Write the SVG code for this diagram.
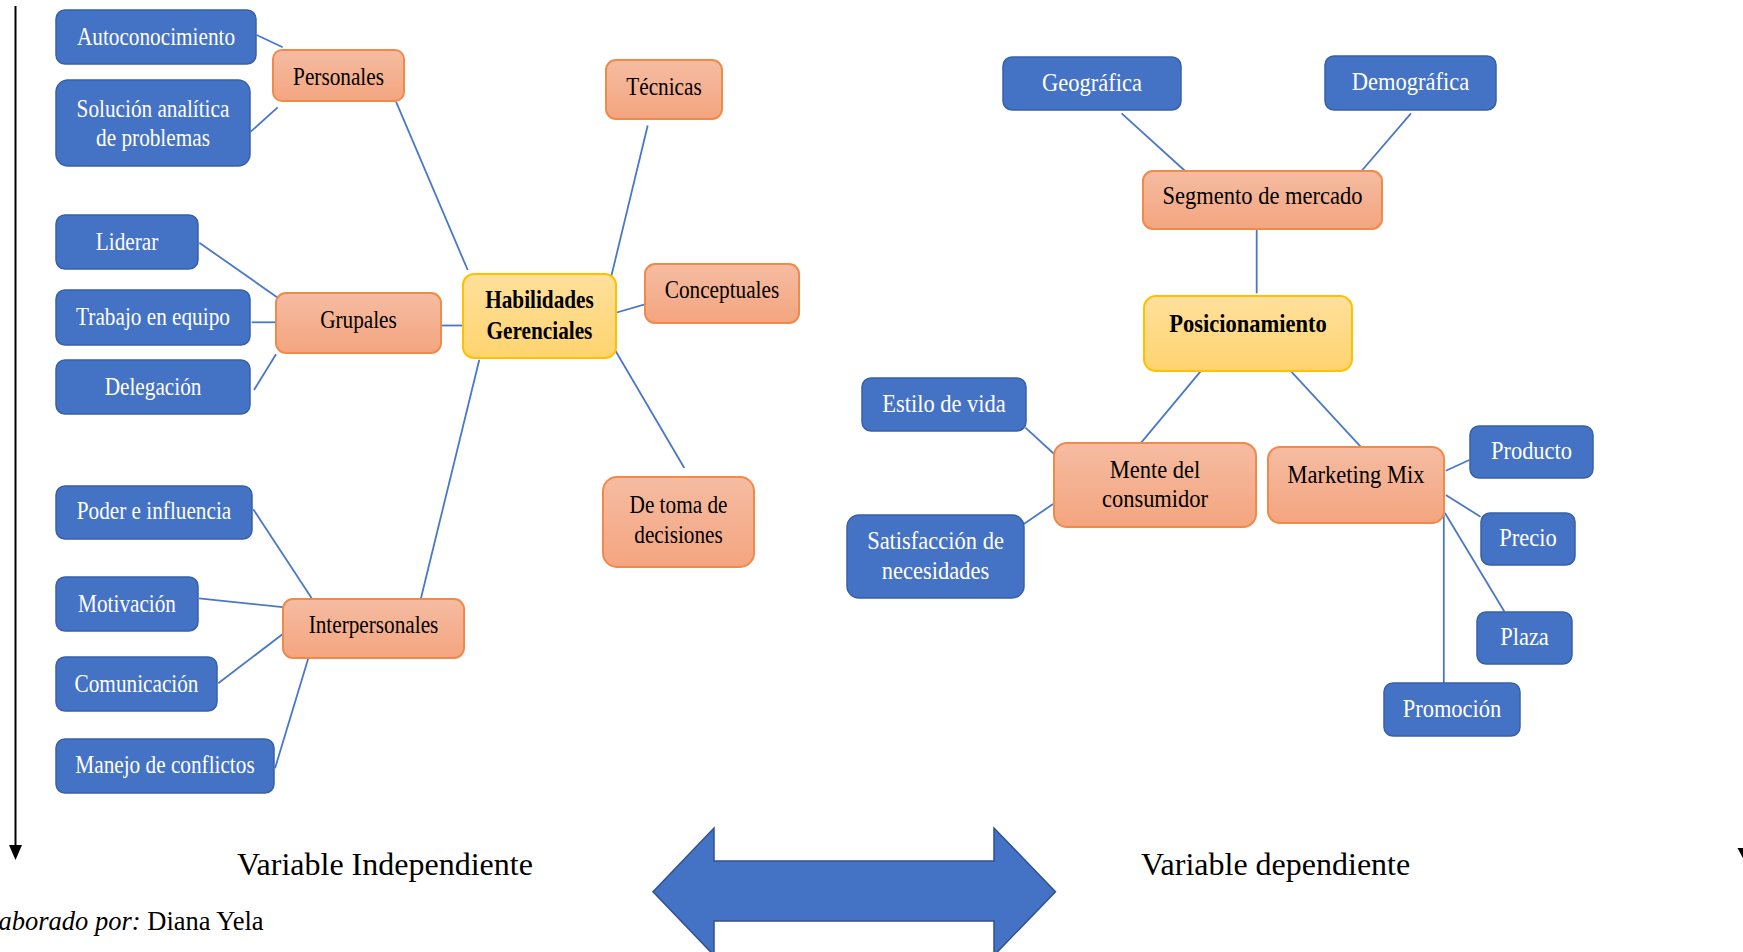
<svg xmlns="http://www.w3.org/2000/svg" width="1743" height="952" viewBox="0 0 1743 952">
  <defs>
    <linearGradient id="gOrange" x1="0" y1="0" x2="0" y2="1">
      <stop offset="0" stop-color="#F5BCA2"/>
      <stop offset="1" stop-color="#F4A57F"/>
    </linearGradient>
    <linearGradient id="gYellow" x1="0" y1="0" x2="0" y2="1">
      <stop offset="0" stop-color="#FFE09C"/>
      <stop offset="1" stop-color="#FFD46F"/>
    </linearGradient>
  </defs>
  <style>
    .blue { fill: #4472C4; stroke: #3760A8; stroke-width: 1.5; }
    .orange { fill: url(#gOrange); stroke: #F08A4B; stroke-width: 2; }
    .yellow { fill: url(#gYellow); stroke: #FFC000; stroke-width: 2; }
    .lbl { font-family: "Liberation Serif", "Times New Roman", serif; font-size: 25px; text-anchor: middle;
           transform-box: fill-box; transform-origin: center; }
    .l { transform: scaleX(0.85); }
    .r { transform: scaleX(0.9); }
    .w { fill: #FFFFFF; }
    .k { fill: #000000; }
    .b { font-weight: bold; }
    .conn line { stroke: #4A78C8; stroke-width: 1.8; }
    .cap { font-family: "Liberation Serif", "Times New Roman", serif; font-size: 32px; fill: #000000; }
  </style>
  <rect width="1743" height="952" fill="#FFFFFF"/>

  <!-- vertical guide arrows -->
  <g id="guides">
    <line x1="15.5" y1="6" x2="15.5" y2="846" stroke="#000000" stroke-width="2"/>
    <polygon points="9,845 22,845 15.5,860" fill="#000000"/>
    <line x1="1745" y1="6" x2="1745" y2="849" stroke="#000000" stroke-width="2"/>
    <polygon points="1737.5,848 1752.5,848 1745,862" fill="#000000"/>
  </g>

  <!-- connectors -->
  <g id="connectors" class="conn">
    <line x1="256.7" y1="35" x2="282.7" y2="47.3"/>
    <line x1="250.7" y1="131.7" x2="277.7" y2="107.3"/>
    <line x1="396" y1="101.7" x2="467.7" y2="270"/>
    <line x1="199.3" y1="242.7" x2="281" y2="300"/>
    <line x1="251.7" y1="322.3" x2="277.7" y2="322.3"/>
    <line x1="254" y1="390" x2="276" y2="354.3"/>
    <line x1="441.7" y1="325.5" x2="465" y2="325.5"/>
    <line x1="479.3" y1="359.7" x2="419.3" y2="605"/>
    <line x1="253.3" y1="509.3" x2="311.7" y2="598.3"/>
    <line x1="199" y1="598.3" x2="287.3" y2="607.7"/>
    <line x1="218.3" y1="683.3" x2="286.7" y2="631"/>
    <line x1="275" y1="768.3" x2="308.3" y2="658.3"/>
    <line x1="611" y1="277.5" x2="647.7" y2="125.5"/>
    <line x1="615" y1="313" x2="645.7" y2="304.2"/>
    <line x1="614" y1="348.3" x2="684.3" y2="468"/>
    <line x1="1121.6" y1="113.3" x2="1185.1" y2="171"/>
    <line x1="1411" y1="113.3" x2="1358.1" y2="175"/>
    <line x1="1256.7" y1="229" x2="1256.7" y2="293.3"/>
    <line x1="1201.2" y1="370.7" x2="1141.2" y2="442.7"/>
    <line x1="1290.4" y1="370.7" x2="1360.6" y2="446.7"/>
    <line x1="1025.4" y1="427.7" x2="1059.6" y2="459"/>
    <line x1="1023.9" y1="524" x2="1053" y2="504"/>
    <line x1="1445.8" y1="470.7" x2="1469.3" y2="460"/>
    <line x1="1445.8" y1="495" x2="1480.5" y2="516.7"/>
    <line x1="1444.8" y1="512.7" x2="1504.5" y2="611.7"/>
    <line x1="1443.8" y1="515" x2="1443.8" y2="683.3"/>
  </g>

  <!-- Habilidades Gerenciales map -->
  <g id="n-habilidades">
    <rect class="yellow" x="463" y="274" width="153" height="84" rx="11"/>
    <text class="lbl l k b" x="539.5" y="308">Habilidades</text>
    <text class="lbl l k b" x="539.5" y="338.7">Gerenciales</text>
  </g>
  <g id="n-personales">
    <rect class="orange" x="273" y="50" width="131" height="51" rx="9"/>
    <text class="lbl l k" x="338.5" y="85">Personales</text>
  </g>
  <g id="n-grupales">
    <rect class="orange" x="276" y="293" width="165" height="60" rx="10"/>
    <text class="lbl l k" x="358.5" y="328">Grupales</text>
  </g>
  <g id="n-interpersonales">
    <rect class="orange" x="283" y="599" width="181" height="59" rx="10"/>
    <text class="lbl l k" x="373.5" y="633">Interpersonales</text>
  </g>
  <g id="n-tecnicas">
    <rect class="orange" x="606" y="60" width="116" height="59" rx="10"/>
    <text class="lbl l k" x="664" y="95">Técnicas</text>
  </g>
  <g id="n-conceptuales">
    <rect class="orange" x="645" y="264" width="154" height="59" rx="10"/>
    <text class="lbl l k" x="722" y="298.5">Conceptuales</text>
  </g>
  <g id="n-toma-decisiones">
    <rect class="orange" x="603" y="477" width="151" height="90" rx="14"/>
    <text class="lbl l k" x="678.5" y="513">De toma de</text>
    <text class="lbl l k" x="678.5" y="543">decisiones</text>
  </g>
  <g id="n-autoconocimiento">
    <rect class="blue" x="56" y="10" width="200" height="54" rx="9"/>
    <text class="lbl l w" x="156" y="45">Autoconocimiento</text>
  </g>
  <g id="n-solucion">
    <rect class="blue" x="56" y="80" width="194" height="86" rx="12"/>
    <text class="lbl l w" x="153" y="117">Solución analítica</text>
    <text class="lbl l w" x="153" y="146">de problemas</text>
  </g>
  <g id="n-liderar">
    <rect class="blue" x="56" y="215" width="142" height="54" rx="9"/>
    <text class="lbl l w" x="127" y="250">Liderar</text>
  </g>
  <g id="n-trabajo">
    <rect class="blue" x="56" y="290" width="194" height="55" rx="9"/>
    <text class="lbl l w" x="153" y="325">Trabajo en equipo</text>
  </g>
  <g id="n-delegacion">
    <rect class="blue" x="56" y="360" width="194" height="54" rx="9"/>
    <text class="lbl l w" x="153" y="395">Delegación</text>
  </g>
  <g id="n-poder">
    <rect class="blue" x="56" y="486" width="196" height="53" rx="9"/>
    <text class="lbl l w" x="154" y="519">Poder e influencia</text>
  </g>
  <g id="n-motivacion">
    <rect class="blue" x="56" y="577" width="142" height="54" rx="9"/>
    <text class="lbl l w" x="127" y="612">Motivación</text>
  </g>
  <g id="n-comunicacion">
    <rect class="blue" x="56" y="657" width="161" height="54" rx="9"/>
    <text class="lbl l w" x="136.5" y="692">Comunicación</text>
  </g>
  <g id="n-manejo">
    <rect class="blue" x="56" y="739" width="218" height="54" rx="9"/>
    <text class="lbl l w" x="165" y="773">Manejo de conflictos</text>
  </g>

  <!-- Posicionamiento map -->
  <g id="n-posicionamiento">
    <rect class="yellow" x="1144" y="296" width="208" height="75" rx="12"/>
    <text class="lbl r k b" x="1248" y="332">Posicionamiento</text>
  </g>
  <g id="n-segmento">
    <rect class="orange" x="1143" y="171" width="239" height="58" rx="10"/>
    <text class="lbl r k" x="1262.5" y="204">Segmento de mercado</text>
  </g>
  <g id="n-mente">
    <rect class="orange" x="1054" y="443" width="202" height="84" rx="13"/>
    <text class="lbl r k" x="1155" y="478">Mente del</text>
    <text class="lbl r k" x="1155" y="507">consumidor</text>
  </g>
  <g id="n-marketing">
    <rect class="orange" x="1268" y="447" width="176" height="76" rx="12"/>
    <text class="lbl r k" x="1356" y="483">Marketing Mix</text>
  </g>
  <g id="n-geografica">
    <rect class="blue" x="1003" y="57" width="178" height="53" rx="9"/>
    <text class="lbl r w" x="1092" y="90.7">Geográfica</text>
  </g>
  <g id="n-demografica">
    <rect class="blue" x="1325" y="56" width="171" height="54" rx="9"/>
    <text class="lbl r w" x="1410.5" y="90">Demográfica</text>
  </g>
  <g id="n-estilo">
    <rect class="blue" x="862" y="378" width="164" height="53" rx="9"/>
    <text class="lbl r w" x="944" y="411.7">Estilo de vida</text>
  </g>
  <g id="n-satisfaccion">
    <rect class="blue" x="847" y="515" width="177" height="83" rx="12"/>
    <text class="lbl r w" x="935.5" y="549">Satisfacción de</text>
    <text class="lbl r w" x="935.5" y="579">necesidades</text>
  </g>
  <g id="n-producto">
    <rect class="blue" x="1470" y="426" width="123" height="52" rx="9"/>
    <text class="lbl r w" x="1531.5" y="459">Producto</text>
  </g>
  <g id="n-precio">
    <rect class="blue" x="1481" y="513" width="94" height="52" rx="9"/>
    <text class="lbl r w" x="1528" y="546">Precio</text>
  </g>
  <g id="n-plaza">
    <rect class="blue" x="1477" y="612" width="95" height="52" rx="9"/>
    <text class="lbl r w" x="1524.5" y="645">Plaza</text>
  </g>
  <g id="n-promocion">
    <rect class="blue" x="1384" y="683" width="136" height="53" rx="9"/>
    <text class="lbl r w" x="1452" y="717">Promoción</text>
  </g>

  <!-- captions and relation arrow -->
  <g id="captions">
    <text class="cap" x="237" y="875">Variable Independiente</text>
    <text class="cap" x="1141" y="875">Variable dependiente</text>
    <text x="-25" y="930" font-family="'Liberation Serif', 'Times New Roman', serif" font-size="26.5" fill="#000000"><tspan font-style="italic">Elaborado por:</tspan> Diana Yela</text>
  </g>
  <g id="relation-arrow">
    <path d="M653,891.7 L714,828 L714,861 L994,861 L994,828 L1055.5,891.7 L994,955.4 L994,921 L714,921 L714,955.4 Z" fill="#4472C4" stroke="#2F528F" stroke-width="1.5"/>
  </g>
</svg>
